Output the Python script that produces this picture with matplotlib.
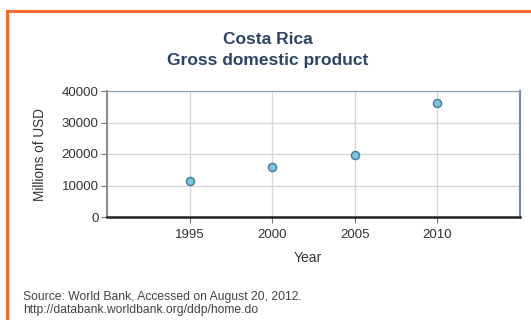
import matplotlib
matplotlib.use("Agg")
import matplotlib.pyplot as plt
from matplotlib.patches import Rectangle

plt.rcParams["font.family"] = ["Liberation Sans", "DejaVu Sans"]

# Costa Rica GDP, millions of USD
years = [1995, 2000, 2005, 2010]
gdp = [11400, 15800, 19800, 36200]
yticks = [0, 10000, 20000, 30000, 40000]
xticks = [1995, 2000, 2005, 2010]

fig = plt.figure(figsize=(5.31, 3.2), dpi=100)
fig.patch.set_facecolor("white")

# orange frame, open past the right/bottom edge
fig.patches.append(Rectangle((6.5 / 531, -0.05), 1.1, 1 - 10.5 / 320 + 0.05,
                             transform=fig.transFigure, fill=False,
                             edgecolor="#f26a2c", linewidth=2.2))

ax = fig.add_axes([107 / 531, 1 - 217 / 320, (520 - 107) / 531, (217 - 91) / 320])
ax.plot(years, gdp, linestyle="none", marker="o", markersize=5.8,
        markerfacecolor="#7cc4e2", markeredgecolor="#4a7ea0", markeredgewidth=1.1,
        zorder=3)

ax.set_xlim(1990, 2015)
ax.set_ylim(0, 40000)
ax.set_xticks(xticks)
ax.set_yticks(yticks)
ax.grid(True, color="#d4d6dc", linewidth=0.9)
ax.set_axisbelow(True)

ax.tick_params(axis="both", direction="out", length=4, width=0.8,
               color="#777777", labelsize=9.5, labelcolor="#333333", pad=2)
ax.tick_params(axis="x", pad=5)

ax.spines["left"].set_color("#888888")
ax.spines["left"].set_linewidth(1.4)
ax.spines["bottom"].set_color("#222222")
ax.spines["bottom"].set_linewidth(1.8)
ax.spines["top"].set_color("#8a9bb0")
ax.spines["right"].set_color("#7d8ea4")
ax.spines["right"].set_linewidth(1.6)

title_color = "#2c4466"
fig.text(0.505, 1 - 40 / 320, "Costa Rica", ha="center", va="center",
         fontsize=12.5, fontweight="bold", color=title_color)
fig.text(0.505, 1 - 60 / 320, "Gross domestic product", ha="center", va="center",
         fontsize=12.5, fontweight="bold", color=title_color)

fig.text(308 / 531, 1 - 258 / 320, "Year", ha="center", va="center",
         fontsize=10, color="#333333")
fig.text(40 / 531, 1 - 155 / 320, "Millions of USD", ha="center", va="center",
         rotation=90, fontsize=9.8, color="#333333")

fig.text(23 / 531, 1 - 297 / 320, "Source: World Bank, Accessed on August 20, 2012.",
         ha="left", va="center", fontsize=8.7, color="#444444")
fig.text(23 / 531, 1 - 310 / 320, "http://databank.worldbank.org/ddp/home.do",
         ha="left", va="center", fontsize=8.7, color="#444444")

fig.savefig("out.png", dpi=100, facecolor="white")
